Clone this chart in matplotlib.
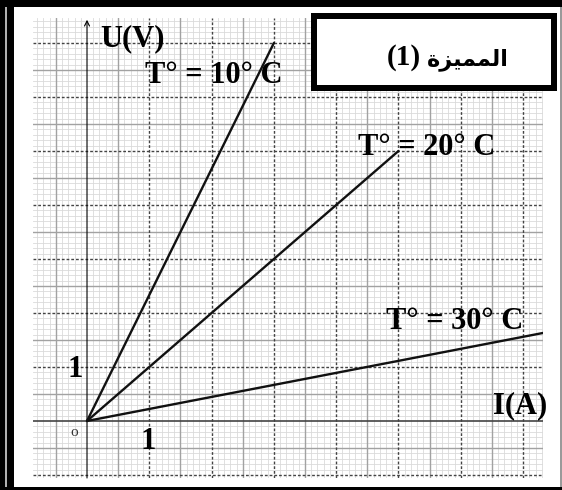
import numpy as np
import matplotlib
matplotlib.use("Agg")
import matplotlib.pyplot as plt
from matplotlib.patches import Rectangle

W, H = 562, 490

# U-I characteristics at three temperatures
I_10 = [0, 3.0]
U_10 = [0, 7.0]
I_20 = [0, 5.0]
U_20 = [0, 5.0]
I_30 = [0, 7.32]
U_30 = [0, 1.63]

labels = ["T° = 10° C", "T° = 20° C", "T° = 30° C"]

# "المميزة" written in presentation forms, visual order
title_num = "(1)"
title_ar = "\uFE93\uFEB0\uFEF4\uFEE4\uFEE4\uFEDF\uFE8D"

SERIF = ["Liberation Serif", "DejaVu Sans"]

X_MIN, X_MAX = -0.867, 7.32
Y_MIN, Y_MAX = -1.056, 7.463


def fx(x):
    return x / W


def fy(y):
    return 1 - y / H


fig = plt.figure(figsize=(W / 100, H / 100), dpi=100)
fig.patch.set_facecolor("white")

ax = fig.add_axes([fx(33), fy(478), fx(543) - fx(33), fy(18) - fy(478)])
ax.set_xlim(X_MIN, X_MAX)
ax.set_ylim(Y_MIN, Y_MAX)
ax.axis("off")

# millimetre-paper style grid
def grid_values(lo, hi):
    return [round(v, 1) for v in np.arange(np.ceil(lo * 10) / 10, hi + 1e-9, 0.1)]

major = dict(color="#444444", lw=1.0, ls=(0, (2.0, 1.4)), zorder=3)
half = dict(color="#a2a2a2", lw=1.0, zorder=2)
fine = dict(color="#dadada", lw=0.6, zorder=1)

for v in grid_values(X_MIN, X_MAX):
    if abs(v - round(v)) < 1e-6:
        if round(v) != 0:
            ax.axvline(v, **major)
    elif abs(v * 2 - round(v * 2)) < 1e-6:
        ax.axvline(v, **half)
    else:
        ax.axvline(v, **fine)

for v in grid_values(Y_MIN, Y_MAX):
    if abs(v - round(v)) < 1e-6:
        if round(v) != 0:
            ax.axhline(v, **major)
    elif abs(v * 2 - round(v * 2)) < 1e-6:
        ax.axhline(v, **half)
    else:
        ax.axhline(v, **fine)

# axes
ax.axhline(0, color="#444444", lw=1.2, zorder=4)
ax.annotate("", xy=(0, 7.43), xytext=(0, Y_MIN),
            arrowprops=dict(arrowstyle="->", color="black", lw=0.8,
                            mutation_scale=9, shrinkA=0, shrinkB=0),
            zorder=4)

# characteristic lines
for I, U in [(I_10, U_10), (I_20, U_20), (I_30, U_30)]:
    ax.plot(I, U, color="#111111", lw=1.7, solid_capstyle="round", zorder=5)

txt = dict(family=SERIF, weight="bold", fontsize=22, color="black", zorder=6)
ax.text(0.21, 6.94, "U(V)", ha="left", va="baseline", **txt)
ax.text(0.93, 6.26, labels[0], ha="left", va="baseline", **txt)
ax.text(4.35, 4.93, labels[1], ha="left", va="baseline", **txt)
ax.text(4.80, 1.70, labels[2], ha="left", va="baseline", **txt)
ax.text(6.52, 0.15, "I(A)", ha="left", va="baseline", **txt)
ax.text(-0.19, 0.81, "1", ha="center", va="baseline", **txt)
ax.text(0.98, -0.52, "1", ha="center", va="baseline", **txt)
ax.text(-0.21, -0.22, "o", ha="center", va="center", family=SERIF,
        fontsize=11, color="#333333", zorder=6)

# title box
bw = 6
fig.add_artist(Rectangle((fx(311 + bw / 2), fy(91 - bw / 2)),
                         fx(557 - 311 - bw), (91 - 13 - bw) / H,
                         transform=fig.transFigure, facecolor="white",
                         edgecolor="black", lw=bw * 0.72, zorder=10))
fig.text(fx(421), fy(65), title_num, ha="right", va="baseline",
         family=SERIF, weight="bold", fontsize=21, zorder=11)
fig.text(fx(427), fy(65), title_ar, ha="left", va="baseline",
         family=["DejaVu Sans"], weight="bold", fontsize=16, zorder=11)

# outer frame
def band(x0, y0, x1, y1, color="black"):
    fig.add_artist(Rectangle((fx(x0), fy(y1)), fx(x1 - x0), (y1 - y0) / H,
                             transform=fig.transFigure, facecolor=color,
                             edgecolor="none", zorder=12))

band(0, 0, 5, H)
band(5, 0, 7, H, "#b0b0b0")
band(7, 0, 14, H)
band(0, 0, W, 7)
band(0, 487, W, H)
band(560, 7, 562, 487, "#9a9a9a")

fig.savefig("out.png", dpi=100)
